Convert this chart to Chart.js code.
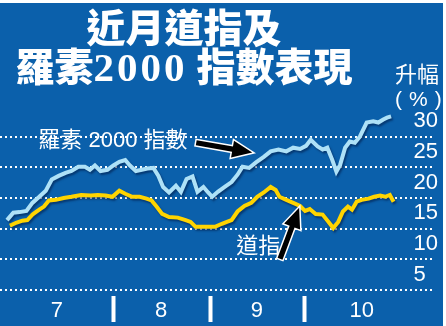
<!DOCTYPE html>
<html>
<head>
<meta charset="utf-8">
<script src="https://cdn.jsdelivr.net/npm/chart.js@4"></script>
<style>
  html, body { margin: 0; padding: 0; background: #fff; }
  #wrap { position: relative; width: 446px; height: 326px; overflow: hidden; background: #fff; }
  #box { position: absolute; left: 0; top: 3px; width: 443px; height: 323px; background: #0b60ab; }
  .title {
    position: absolute; left: 0; top: 6px; width: 368px; text-align: center;
    color: #fff; font-family: "Noto Sans CJK TC", sans-serif;
    font-weight: 900; font-size: 39px; line-height: 39px; white-space: nowrap;
  }
  .title .num { font-family: "Liberation Serif", serif; font-weight: 700; font-size: 41px; letter-spacing: 3px; }
  .unit {
    position: absolute; left: 395px; top: 60px; color: #fff;
    font-family: "Noto Sans CJK TC", sans-serif; font-size: 22px; line-height: 24px;
  }
  .unit .pct { font-family: "Liberation Sans", sans-serif; letter-spacing: 7px; font-size: 21px; }
</style>
</head>
<body>
<div id="wrap">
  <div id="box"><canvas id="myChart"></canvas></div>
  <div class="title">近月道指及<br>羅素<span class="num">2000</span> 指數表現</div>
  <div class="unit">升幅<br><span class="pct">(%)</span></div>
</div>
<script>
// days counted from 1 July
const russellDays = [-3, -1, 1, 3.2, 5.1, 7.3, 9.4, 11.3, 13.5, 15.7, 17.6, 19.8, 21.9, 23.5, 25.1, 26.9, 29.1, 31, 32.9, 34.8,
  36.3, 38.2, 40.1, 41.9, 43.8, 45.4, 46.9, 48.8, 51, 52.6, 54.4, 56.3, 57.9, 59.8, 61.3, 62.6, 64.4, 66.6, 68.8, 70.7,
  72.3, 74.4, 76.6, 79.1, 81.3, 83.8, 86.3, 88.5, 90.7, 92.6, 94.1, 96.3, 97.9, 99.4, 101, 102.3, 103.5, 105.1, 106.6, 108.2,
  109.8, 112, 114.1, 115.7, 117.3, 118.5, 119.8];
const russellVals = [13.9, 15.1, 15.2, 15.4, 16.7, 17.7, 18.7, 20.5, 21.1, 21.6, 21.9, 22.6, 22.6, 22.1, 22.8, 21.9, 22.1, 22.8, 23.4, 23.7,
  22.8, 21.9, 22.1, 22.3, 22.4, 21.1, 19.3, 18.4, 19.5, 18.5, 20.6, 21.0, 18.5, 19.3, 18.4, 17.7, 18.5, 19.3, 20.1, 21.3,
  22.6, 22.4, 23.3, 24.2, 25.1, 25.4, 25.1, 25.7, 25.5, 26.0, 27.0, 25.9, 25.4, 25.7, 23.7, 21.8, 22.9, 25.7, 26.7, 26.5,
  27.5, 29.8, 30.0, 29.8, 30.3, 30.6, 30.8];

const dowDays = [-2.1, 0.1, 1.9, 3.5, 5.1, 7.3, 8.8, 10.4, 12.6, 15.1, 17.6, 20.7, 23.8, 26, 28.5, 30.7, 32.9, 34.8, 37, 39.4,
  41.6, 43.2, 44.8, 46.6, 48.8, 51.6, 54.1, 55.7, 57.3, 59.4, 61.3, 63.5, 65.7, 67.3, 68.8, 70.7, 72.9, 75.1, 77, 79.1,
  81.3, 82.9, 84.1, 86.3, 88.5, 90.7, 92.3, 93.8, 95.7, 97.9, 99.8, 101.3, 102.9, 104.4, 106, 107.3, 108.8, 110.4, 112.6, 114.4,
  116.3, 117.9, 119.4, 120.6];
const dowVals = [13.0, 13.5, 13.8, 13.9, 14.8, 15.6, 16.1, 17.1, 17.2, 17.5, 17.7, 18.0, 17.9, 18.0, 17.9, 17.7, 18.7, 18.2, 17.7, 17.7,
  17.4, 17.1, 16.1, 14.9, 14.4, 14.3, 13.9, 13.6, 12.8, 12.8, 12.8, 12.8, 13.3, 13.6, 13.9, 15.3, 16.2, 16.7, 17.7, 18.4,
  19.3, 18.8, 17.7, 17.2, 16.7, 16.2, 15.4, 15.7, 14.9, 14.8, 13.6, 12.6, 13.6, 15.3, 16.1, 15.6, 16.9, 17.2, 17.4, 17.7,
  17.9, 17.7, 18.0, 16.9];

const monthLabels = ['7', '8', '9', '10'];
const monthLabelDays = [12.9, 46.3, 76.9, 110.4];
const monthStartDays = [31, 62, 92];
const yTicks = [5, 10, 15, 20, 25, 30];
const gridTicks = [2.5, 7.5, 12.5, 17.5, 22.5, 27.5];

function toPoints(days, vals) {
    return days.map(function(d, i) { return { x: d, y: vals[i] }; });
}

// soft dark shadow under both lines
const shadowPlugin = {
    id: 'lineShadow',
    beforeDatasetDraw(chart) {
        const ctx = chart.ctx;
        ctx.save();
        ctx.shadowColor = 'rgba(0, 25, 70, 0.55)';
        ctx.shadowOffsetX = 1.5;
        ctx.shadowOffsetY = 2;
        ctx.shadowBlur = 2;
    },
    afterDatasetDraw(chart) {
        chart.ctx.restore();
    }
};

function drawArrow(ctx, x1, y1, x2, y2) {
    const len = Math.hypot(x2 - x1, y2 - y1);
    const ux = (x2 - x1) / len, uy = (y2 - y1) / len;
    const nx = -uy, ny = ux;
    const sw = 2.6, hw = 8.5, hl = 20;
    const bx = x2 - ux * hl, by = y2 - uy * hl;
    const pts = [
        [x1 + nx * sw, y1 + ny * sw], [bx + nx * sw, by + ny * sw], [bx + nx * hw, by + ny * hw],
        [x2, y2],
        [bx - nx * hw, by - ny * hw], [bx - nx * sw, by - ny * sw], [x1 - nx * sw, y1 - ny * sw]
    ];
    ctx.beginPath();
    pts.forEach(function(p, i) { if (i === 0) ctx.moveTo(p[0], p[1]); else ctx.lineTo(p[0], p[1]); });
    ctx.closePath();
    ctx.lineJoin = 'miter';
    ctx.lineWidth = 3;
    ctx.strokeStyle = '#fff';
    ctx.stroke();
    ctx.fillStyle = '#000';
    ctx.fill();
}

// series labels with arrows, placed in data units
const notesPlugin = {
    id: 'notes',
    afterDatasetsDraw(chart) {
        const ctx = chart.ctx;
        const x = chart.scales.x, y = chart.scales.y;
        ctx.save();
        ctx.fillStyle = '#fff';
        ctx.font = '22px "Liberation Sans", "Noto Sans CJK TC", sans-serif';
        ctx.textBaseline = 'middle';
        ctx.textAlign = 'left';
        ctx.fillText('羅素 2000 指數', x.getPixelForValue(7), y.getPixelForValue(26.8));
        ctx.textAlign = 'center';
        ctx.fillText('道指', x.getPixelForValue(77.3), y.getPixelForValue(9.5));
        drawArrow(ctx, x.getPixelForValue(57.5), y.getPixelForValue(26.5), x.getPixelForValue(75.4), y.getPixelForValue(24.9));
        drawArrow(ctx, x.getPixelForValue(84.3), y.getPixelForValue(7.6), x.getPixelForValue(90.4), y.getPixelForValue(15.9));
        ctx.restore();
    }
};

const ctx = document.getElementById('myChart').getContext('2d');
const myChart = new Chart(ctx, {
    type: 'line',
    data: {
        datasets: [{
            label: '羅素2000指數',
            data: toPoints(russellDays, russellVals),
            borderColor: '#aee1f7',
            borderWidth: 4,
            pointRadius: 0,
            tension: 0
        }, {
            label: '道指',
            data: toPoints(dowDays, dowVals),
            borderColor: '#ffd400',
            borderWidth: 4,
            pointRadius: 0,
            tension: 0
        }]
    },
    options: {
        responsive: true,
        maintainAspectRatio: false,
        animation: false,
        layout: { padding: { top: 57, left: 0, right: 0, bottom: 0 } },
        plugins: { legend: { display: false }, tooltip: { enabled: false } },
        scales: {
            x: {
                type: 'linear',
                position: 'bottom',
                min: -5.25,
                max: 133.2,
                bounds: 'data',
                afterBuildTicks: function(scale) {
                    scale.ticks = monthLabelDays.concat(monthStartDays).map(function(v) { return { value: v }; });
                },
                afterFit: function(scale) { scale.height = 36; },
                border: { display: false, width: 0 },
                grid: {
                    drawOnChartArea: false,
                    drawTicks: true,
                    tickLength: 32,
                    tickWidth: 4,
                    tickBorderDash: [0, 6, 26, 100],
                    tickColor: function(c) {
                        return c.tick && monthStartDays.includes(c.tick.value) ? '#fff' : 'rgba(0,0,0,0)';
                    }
                },
                ticks: {
                    autoSkip: false,
                    maxRotation: 0,
                    padding: -24,
                    color: '#fff',
                    font: { family: 'Liberation Sans', size: 22 },
                    callback: function(v) {
                        const i = monthLabelDays.indexOf(v);
                        return i >= 0 ? monthLabels[i] : '';
                    }
                }
            },
            y: {
                position: 'right',
                min: 2.5,
                max: 40,
                afterBuildTicks: function(scale) {
                    scale.ticks = gridTicks.map(function(v) { return { value: v }; });
                },
                border: { display: false, width: 0, dash: [2, 3] },
                grid: {
                    color: '#fff',
                    lineWidth: 2,
                    drawTicks: false
                },
                ticks: { display: false }
            },
            yLabels: {
                position: 'right',
                min: 2.5,
                max: 40,
                afterBuildTicks: function(scale) {
                    scale.ticks = yTicks.map(function(v) { return { value: v }; });
                },
                border: { display: false, width: 0 },
                grid: { display: false, drawTicks: false },
                ticks: {
                    mirror: true,
                    crossAlign: 'far',
                    padding: 5,
                    color: '#fff',
                    font: { family: 'Liberation Sans', size: 22 }
                }
            }
        }
    },
    plugins: [shadowPlugin, notesPlugin]
});
</script>
</body>
</html>
